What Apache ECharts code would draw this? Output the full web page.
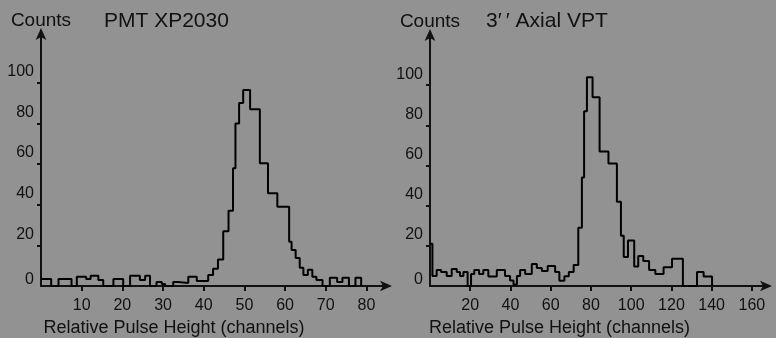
<!DOCTYPE html>
<html>
<head>
<meta charset="utf-8">
<script src="https://cdn.jsdelivr.net/npm/echarts@6/dist/echarts.min.js"></script>
<style>
html,body{margin:0;padding:0;background:#929292;}
#c{width:776px;height:338px;}
</style>
</head>
<body>
<div id="c"></div>
<script>
// ---- Data ----
const leftTitle = 'PMT XP2030';
const rightTitle = '3\u2032\u2009\u2032 Axial VPT';
const yName = 'Counts';
const xName = 'Relative Pulse Height (channels)';

const yTickValues = [0, 20, 40, 60, 80, 100];
const leftXTicks = [10, 20, 30, 40, 50, 60, 70, 80];
const rightXTicks = [20, 40, 60, 80, 100, 120, 140, 160];

// left histogram: bin start edges (channels) and counts; last edge closes the histogram
const leftEdges = [0, 2.5, 4.3, 7.5, 8.8, 11.1, 12.2, 14.1, 15.3, 17.8, 20.2, 21.9, 24.3, 25.6, 26.8, 28.4, 29.7, 30.5, 32.5, 33.7, 36.2, 38.3, 41.1, 42.3, 43.5, 44.8, 46.1, 47.2, 47.8, 48.7, 49.7, 51.4, 53.8, 55.8, 58.1, 61.0, 61.6, 62.6, 63.6, 64.5, 65.6, 66.7, 67.7, 69.2, 71.0, 72.8, 74.1, 75.7, 77.3, 78.7];
const leftCounts = [3.5, 0, 3.5, 0, 4.5, 3.5, 5, 3, 0, 3.5, 0, 5, 3, 5, 0, 2, 1, 0, 2, 1.5, 4.5, 2.5, 5.4, 8.5, 13, 27, 37, 58, 80, 90, 96.5, 87, 60.4, 45.6, 39, 21.8, 17.7, 13.8, 9, 5.4, 8, 4.5, 3, 0, 4, 2, 4, 0, 4];

// right histogram
const rightEdges = [0, 1.2, 3.3, 5.5, 8.3, 10.8, 13.3, 14.9, 16.6, 18.7, 20.4, 22, 24.4, 26.5, 29, 33.2, 37.3, 39.8, 41.5, 43.2, 44.8, 47.3, 50.6, 53.1, 55.6, 58.5, 62.2, 64.3, 66.8, 69, 71.4, 73.7, 75.5, 76.6, 78, 80.8, 84.3, 88.7, 92.9, 94.9, 96.3, 98.4, 101.5, 103.5, 106, 108.9, 112, 116.1, 120.3, 125.7, 132.7, 136, 140.2];
const rightCounts = [21, 5, 8, 7, 5, 8.5, 7, 5, 7, 0, 6, 8, 6, 8, 4.7, 8, 5, 2.7, 0.7, 5, 8, 6, 11, 9, 7.5, 10, 7, 2.6, 4.8, 7, 10.5, 29, 54, 87, 104, 94, 67, 61, 42, 25, 14.5, 22.7, 9.7, 15, 12.4, 8, 6, 9.4, 13.6, 0, 7, 4.7];

function stepData(edges, counts) {
  const d = counts.map((c, i) => [edges[i], c]);
  d.push([edges[edges.length - 1], 0]);
  return d;
}

const FONT = '"Liberation Sans", Arial, Helvetica, sans-serif';
const INK = '#111';

function yAxisCfg(gridIndex, max) {
  return {
    type: 'value', gridIndex: gridIndex, min: 0, max: max,
    name: yName, nameLocation: 'end', nameGap: 2,
    nameTextStyle: { color: INK, fontFamily: FONT, fontSize: 19, align: 'center' },
    splitLine: { show: false },
    axisLine: { show: true, symbol: ['none', 'arrow'], symbolSize: [8, 12], symbolOffset: [0, 4],
      lineStyle: { color: INK, width: 2 } },
    axisTick: { show: true, inside: false, length: 4, customValues: [20, 40, 60, 80, 100],
      lineStyle: { color: INK, width: 2 } },
    axisLabel: {
      customValues: yTickValues, margin: 7, color: INK, fontFamily: FONT, fontSize: 16,
      formatter: v => v === 0 ? '{z|0}' : '{a|' + v + '}',
      rich: {
        a: { fontFamily: FONT, fontSize: 16, color: INK, padding: [0, 0, 22, 0] },
        z: { fontFamily: FONT, fontSize: 16, color: INK, padding: [0, 0, 12, 0] }
      }
    }
  };
}

function xAxisCfg(gridIndex, max, ticks, namePadRight) {
  return {
    type: 'value', gridIndex: gridIndex, min: 0, max: max,
    name: xName, nameLocation: 'middle', nameGap: 32,
    nameTextStyle: { color: INK, fontFamily: FONT, fontSize: 18, padding: [0, namePadRight, 0, 0] },
    splitLine: { show: false },
    axisLine: { show: true, symbol: ['none', 'arrow'], symbolSize: [8, 12], symbolOffset: [0, 4],
      lineStyle: { color: INK, width: 2 } },
    axisTick: { show: true, inside: false, length: 5, customValues: ticks,
      lineStyle: { color: INK, width: 2 } },
    axisLabel: { customValues: ticks, margin: 12, color: INK, fontFamily: FONT, fontSize: 16 }
  };
}

const chart = echarts.init(document.getElementById('c'), null, { renderer: 'canvas' });
chart.setOption({
  backgroundColor: '#929292',
  animation: false,
  title: [
    { text: leftTitle, left: 104, top: 11, padding: 0,
      textStyle: { color: INK, fontFamily: FONT, fontSize: 21, fontWeight: 'normal' } },
    { text: rightTitle, left: 486, top: 11, padding: 0,
      textStyle: { color: INK, fontFamily: FONT, fontSize: 21, fontWeight: 'normal' } }
  ],
  grid: [
    { left: 41, width: 347, top: 32, bottom: 52, containLabel: false, outerBoundsMode: 'none' },
    { left: 430, width: 338, top: 33, bottom: 52, containLabel: false, outerBoundsMode: 'none' }
  ],
  xAxis: [
    xAxisCfg(0, 85.3, leftXTicks, 81),
    xAxisCfg(1, 168, rightXTicks, 79)
  ],
  yAxis: [
    yAxisCfg(0, 125),
    yAxisCfg(1, 126)
  ],
  series: [
    { type: 'line', xAxisIndex: 0, yAxisIndex: 0, step: 'end', showSymbol: false,
      lineStyle: { color: '#000', width: 2 }, data: stepData(leftEdges, leftCounts) },
    { type: 'line', xAxisIndex: 1, yAxisIndex: 1, step: 'end', showSymbol: false,
      lineStyle: { color: '#000', width: 2 }, data: stepData(rightEdges, rightCounts) }
  ]
});
</script>
</body>
</html>
